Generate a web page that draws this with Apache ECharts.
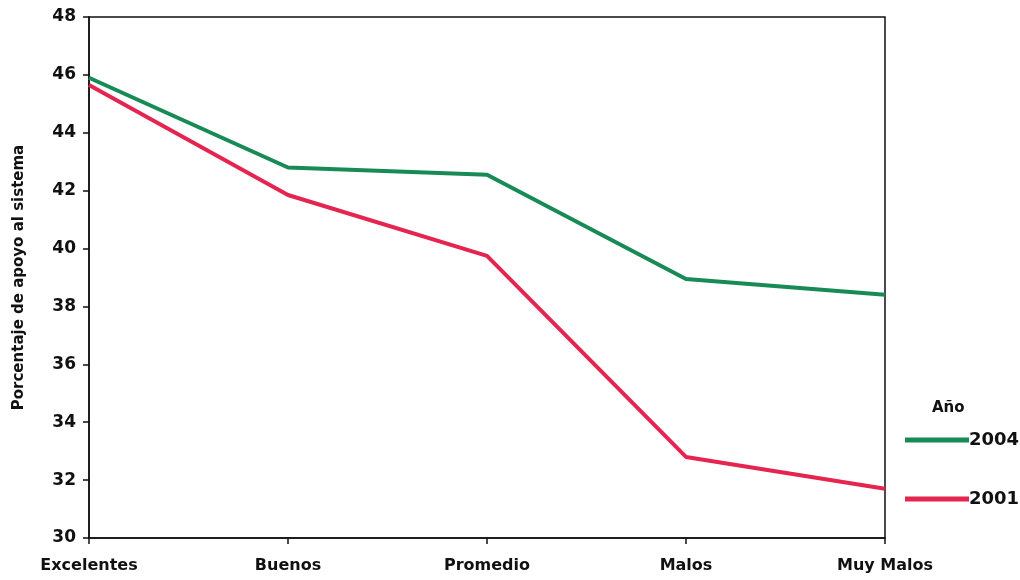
<!DOCTYPE html>
<html><head><meta charset="utf-8">
<script src="https://cdn.jsdelivr.net/npm/echarts@6/dist/echarts.min.js"></script>
<style>html,body{margin:0;padding:0;background:#fff}#c{width:1020px;height:580px}</style>
</head><body><div id="c"></div>
<script>
const categories = ['Excelentes', 'Buenos', 'Promedio', 'Malos', 'Muy Malos'];
const s2004 = [45.9, 42.8, 42.55, 38.95, 38.4];
const s2001 = [45.65, 41.85, 39.75, 32.8, 31.7];
const yTicks = [30, 32, 34, 36, 38, 40, 42, 44, 46, 48];
const seriesNames = ['2004', '2001'];
const legendTitle = 'Año';
const yName = 'Porcentaje de apoyo al sistema';

const chart = echarts.init(document.getElementById('c'));
const font = '"DejaVu Sans", Verdana, sans-serif';
chart.setOption({
  backgroundColor: '#fff',
  animation: false,
  textStyle: { fontFamily: font },
  grid: { left: 89, right: 135, top: 17, bottom: 42, containLabel: false, outerBoundsMode: 'none',
    show: true, borderColor: '#111', borderWidth: 1.5, backgroundColor: 'transparent' },
  title: { text: legendTitle, left: 927, top: 396, textStyle: { fontSize: 15, fontWeight: 'bold', color: '#111', fontFamily: font } },
  legend: {
    orient: 'vertical', left: 900, top: 426, itemWidth: 64, itemHeight: 5, itemGap: 41,
    icon: 'rect', data: seriesNames,
    textStyle: { fontSize: 18, fontWeight: 'bold', color: '#111', fontFamily: font, padding: [0, 0, 0, -5] }
  },
  xAxis: {
    type: 'category', data: categories, boundaryGap: false,
    axisLine: { lineStyle: { color: '#111', width: 1.5 } },
    axisTick: { show: true, alignWithLabel: true, length: 6, lineStyle: { color: '#111', width: 1.5 } },
    axisLabel: { fontSize: 16, fontWeight: 'bold', color: '#111', margin: 20, fontFamily: font },
    splitLine: { show: false }
  },
  yAxis: {
    type: 'value', min: yTicks[0], max: yTicks[yTicks.length - 1], interval: 2,
    name: yName, nameLocation: 'middle', nameGap: 62, nameRotate: 90,
    nameTextStyle: { fontSize: 15, fontWeight: 'bold', color: '#111', fontFamily: font },
    axisLine: { show: true, lineStyle: { color: '#111', width: 1.5 } },
    axisTick: { show: true, length: 6, lineStyle: { color: '#111', width: 1.5 } },
    axisLabel: { fontSize: 17, fontWeight: 'bold', color: '#111', margin: 13, fontFamily: font },
    splitLine: { show: false }
  },
  series: [
    { name: seriesNames[0], type: 'line', data: s2004, showSymbol: false, symbol: 'none',
      lineStyle: { color: '#178a56', width: 4 }, itemStyle: { color: '#178a56' } },
    { name: seriesNames[1], type: 'line', data: s2001, showSymbol: false, symbol: 'none',
      lineStyle: { color: '#e3254f', width: 4 }, itemStyle: { color: '#e3254f' } }
  ]
});
</script></body></html>
